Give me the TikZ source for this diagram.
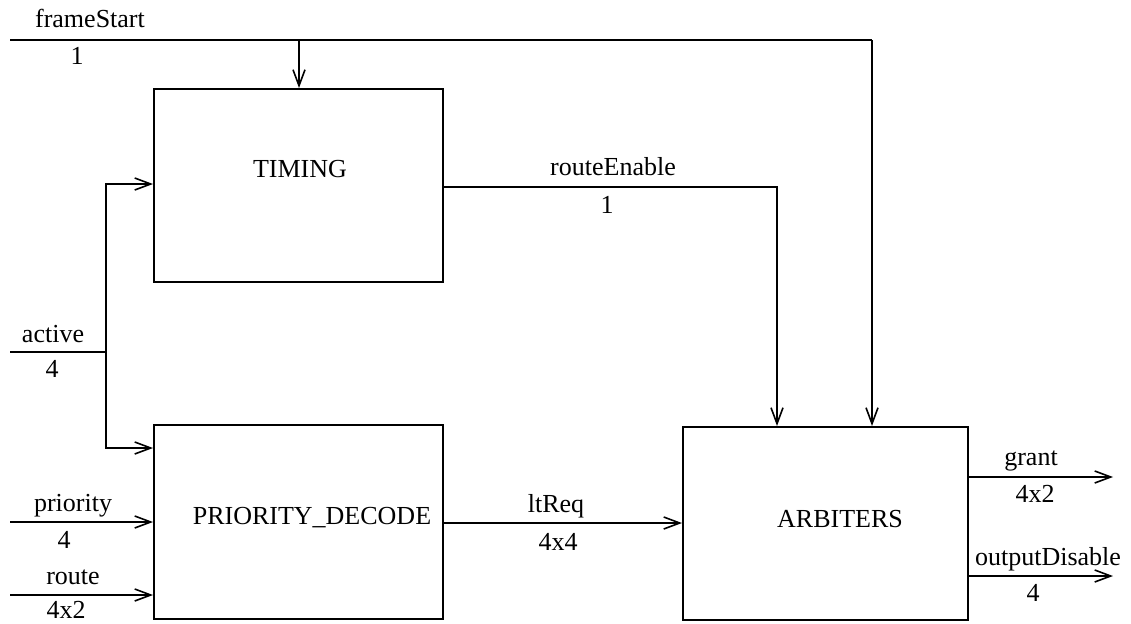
\documentclass[tikz,border=0pt]{standalone}
\usepackage{fontspec}
\setmainfont{Liberation Serif}
\usetikzlibrary{arrows.meta}
\begin{document}
\begin{tikzpicture}[x=1pt,y=-1pt,
  wire/.style={line width=2pt},
  arr/.style={wire,-{Straight Barb[length=16pt,width=12pt,line width=1.6pt]}},
  blk/.style={draw,line width=2pt,inner sep=0pt},
  lbl/.style={font=\fontsize{26}{28}\selectfont,inner sep=0pt,anchor=base}]
\useasboundingbox (0,0) rectangle (1131,623);
% blocks
\node[blk,minimum width=289pt,minimum height=193pt] (timing) at (298.5,185.5) {};
\node[lbl] (timingT) at (300,177) {TIMING};
\node[blk,minimum width=289pt,minimum height=194pt] (prio) at (298.5,522) {};
\node[lbl] (prioT) at (312,524) {PRIORITY\_DECODE};
\node[blk,minimum width=285pt,minimum height=193pt] (arb) at (825.5,523.5) {};
\node[lbl] (arbT) at (840,527) {ARBITERS};
% coordinates
\coordinate (fsL) at (10,40.5);
\coordinate (fsB) at (299,40.5);
\coordinate (fsR) at (872,40.5);
\coordinate (reR) at (777,187);
\coordinate (acL) at (10,352);
\coordinate (acJ) at (106,352);
\coordinate (acT) at (106,184);
\coordinate (acB) at (106,448);
\coordinate (prL) at (10,522);
\coordinate (roL) at (10,595);
\coordinate (ltY) at (443,523);
\coordinate (grR) at (1113,477);
\coordinate (odR) at (1113,576);
% frameStart
\draw[wire] (fsL) -- (fsR);
\draw[arr] (fsB) -- (fsB |- timing.north);
\draw[arr] (fsR) -- (fsR |- arb.north);
\node[lbl] (fsN) at (90,28) {frameStart};
\node[lbl] (fsW) at (77,65) {1};
% routeEnable
\draw[arr] (reR -| timing.east) -- (reR) -- (reR |- arb.north);
\node[lbl] (reN) at (613,175) {routeEnable};
\node[lbl] (reW) at (607,213) {1};
% active
\draw[wire] (acL) -- (acJ);
\draw[arr] (acJ) -- (acT) -- (acT -| timing.west);
\draw[arr] (acJ) -- (acB) -- (acB -| prio.west);
\node[lbl] (acN) at (53,342) {active};
\node[lbl] (acW) at (52,377) {4};
% priority
\draw[arr] (prL) -- (prL -| prio.west);
\node[lbl] (prN) at (73,511) {priority};
\node[lbl] (prW) at (64,548) {4};
% route
\draw[arr] (roL) -- (roL -| prio.west);
\node[lbl] (roN) at (73,584) {route};
\node[lbl] (roW) at (66,618) {4x2};
% ltReq
\draw[arr] (ltY) -- (ltY -| arb.west);
\node[lbl] (ltN) at (556,512) {ltReq};
\node[lbl] (ltW) at (558,550) {4x4};
% outputs
\draw[arr] (grR -| arb.east) -- (grR);
\node[lbl] (grN) at (1031,465) {grant};
\node[lbl] (grW) at (1035,502) {4x2};
\draw[arr] (odR -| arb.east) -- (odR);
\node[lbl] (odN) at (1048,565) {outputDisable};
\node[lbl] (odW) at (1033,601) {4};
\end{tikzpicture}
\end{document}
